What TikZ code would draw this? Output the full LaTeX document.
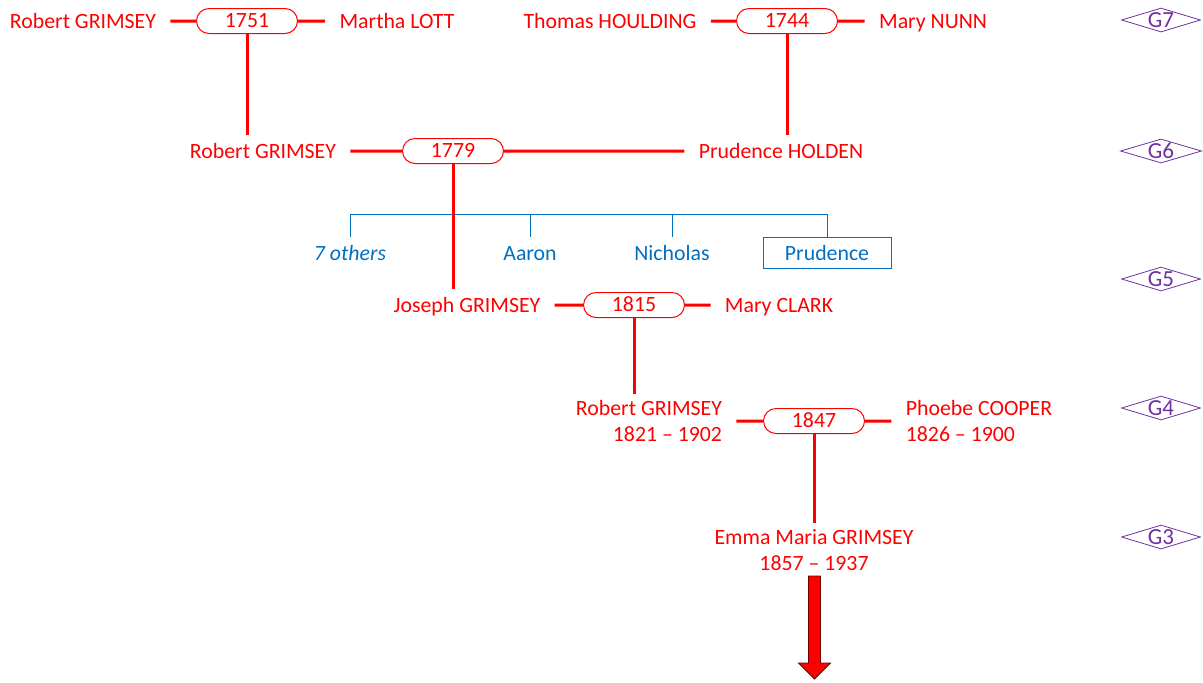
\documentclass[tikz,border=0pt]{standalone}
\usepackage{fontspec}
\setmainfont{Carlito}
\usetikzlibrary{shapes.geometric}
\usetikzlibrary{shapes.misc}
\definecolor{famred}{RGB}{255,0,0}
\definecolor{famblue}{RGB}{0,112,192}
\definecolor{fampurple}{RGB}{112,48,160}
\newcommand{\famtxt}{\fontsize{10.9pt}{13pt}\selectfont}

\begin{document}
\begin{tikzpicture}[x=0.5pt,y=-0.5pt]
\tikzstyle{person}=[text=famred,inner xsep=7pt,inner ysep=3pt,font=\famtxt]
\tikzstyle{single}=[text height=8.4pt,text depth=1.2pt]
\tikzstyle{wed}=[rounded rectangle,draw=famred,fill=white,line width=0.5pt,text=famred,minimum width=50.5pt,minimum height=12.5pt,inner sep=0pt,text height=8.2pt,text depth=1.4pt,font=\famtxt]
\tikzstyle{link}=[famred,line width=1.5pt]
\tikzstyle{kid}=[text=famblue,inner xsep=7pt,inner ysep=3pt,text height=8.4pt,text depth=1.2pt,font=\famtxt]
\tikzstyle{kidline}=[famblue,line width=0.5pt]
\tikzstyle{gen}=[diamond,draw=fampurple,line width=0.4pt,text=fampurple,aspect=3.5,minimum width=39pt,minimum height=12pt,inner sep=0pt,font=\fontsize{11.5pt}{13pt}\selectfont]
\useasboundingbox (0,0) rectangle (1203,682);
\node[gen] (G7) at (1161,20) {G7};
\node[gen] (G6) at (1161,151) {G6};
\node[gen] (G5) at (1161,279) {G5};
\node[gen] (G4) at (1161,408) {G4};
\node[gen] (G3) at (1161,537) {G3};
\node[person,single] (RA) at (83,21) {Robert GRIMSEY};
\node[wed] (W1) at (247,21) {1751};
\node[person,single] (ML) at (397,21) {Martha LOTT};
\node[person,single] (TH) at (610,21) {Thomas HOULDING};
\node[wed] (W2) at (787,21) {1744};
\node[person,single] (MN) at (933,21) {Mary NUNN};
\node[person,single] (RB) at (263,151) {Robert GRIMSEY};
\node[wed] (W3) at (453,151) {1779};
\node[person,single] (PH) at (781,151) {Prudence HOLDEN};
\node[kid,font=\famtxt\itshape] (K1) at (350,253) {7 others};
\node[kid] (K2) at (530,253) {Aaron};
\node[kid] (K3) at (672,253) {Nicholas};
\node[kid,draw=famblue,line width=0.5pt,minimum width=64pt,minimum height=13pt] (K4) at (827,253) {Prudence};
\node[person,single] (JG) at (467,305) {Joseph GRIMSEY};
\node[wed] (W4) at (634,305) {1815};
\node[person,single] (MC) at (779,305) {Mary CLARK};
\node[person,align=right] (RC) at (649,421) {Robert GRIMSEY\\1821 -- 1902};
\node[wed] (W5) at (814,421) {1847};
\node[person,align=left] (PC) at (979,421) {Phoebe COOPER\\1826 -- 1900};
\node[person,align=center] (EG) at (814,550) {Emma Maria GRIMSEY\\1857 -- 1937};
\draw[kidline] (K1.north) |- (K4.north |- 0,214) -- (K4.north);
\draw[kidline] (K2.north) -- (K2.north |- 0,214);
\draw[kidline] (K3.north) -- (K3.north |- 0,214);
\draw[link] (RA) -- (W1) -- (ML);
\draw[link] (TH) -- (W2) -- (MN);
\draw[link] (RB) -- (W3) -- (PH);
\draw[link] (JG) -- (W4) -- (MC);
\draw[link] (RC.east |- W5) -- (W5) -- (PC.west |- W5);
\draw[link] (W1.south) -- (W1.south |- RB.north);
\draw[link] (W2.south) -- (W2.south |- PH.north);
\draw[link] (W3.south) -- (W3.south |- JG.north);
\draw[link] (W4.south) -- (W4.south |- RC.north);
\draw[link] (W5.south) -- (W5.south |- EG.north);
\filldraw[fill=famred,draw=famred!45!black,line width=0.4pt] (808.5,576) -- (820.5,576) -- (820.5,663) -- (830.5,663) -- (814.5,679) -- (798.5,663) -- (808.5,663) -- cycle;
\end{tikzpicture}
\end{document}
